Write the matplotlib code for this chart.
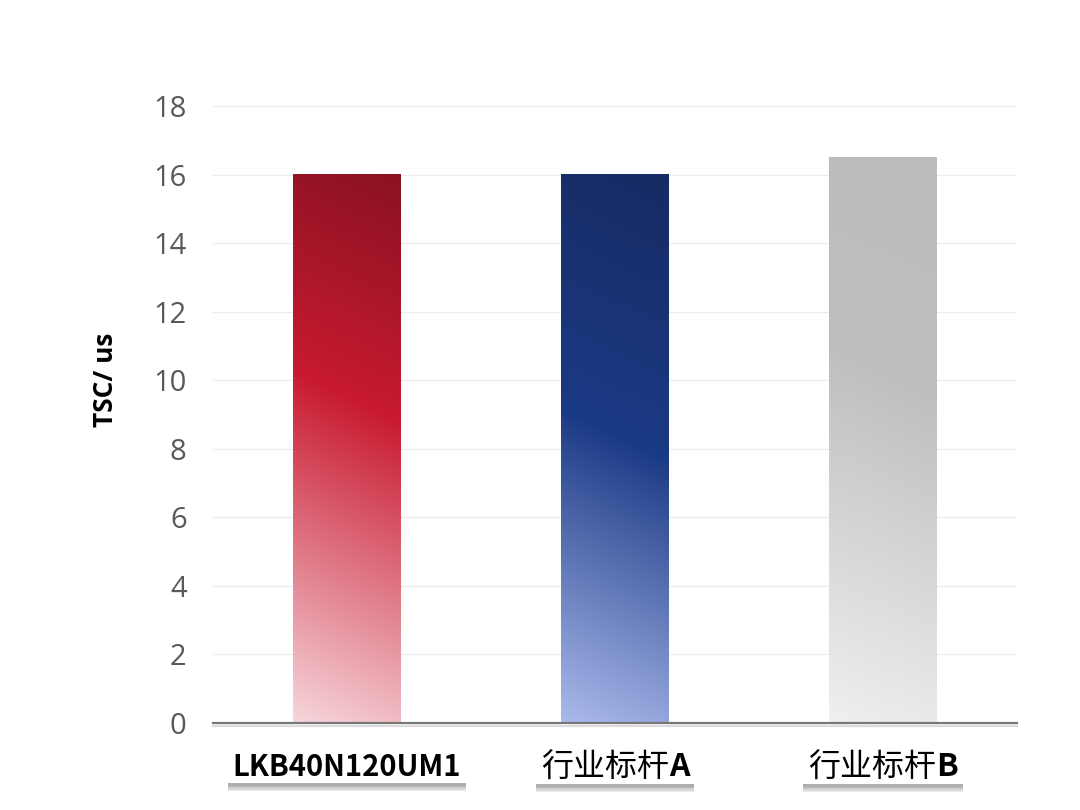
import matplotlib
matplotlib.use("Agg")
import matplotlib.pyplot as plt
import matplotlib.patheffects as pe
import numpy as np
from matplotlib.colors import to_rgb
from matplotlib.patches import Rectangle
from matplotlib.transforms import offset_copy, Bbox


CATEGORIES = ["LKB40N120UM1", "行业标杆A", "行业标杆B"]
# each label split into (text, weight) parts, the latin letters are bold
LABEL_PARTS = [
    [("LKB40N120UM1", "bold")],
    [("行业标杆", "normal"), ("A", "bold")],
    [("行业标杆", "normal"), ("B", "bold")],
]
LABEL_SIZES = [21, 23, 23]
VALUES = [16.0, 16.0, 16.5]
Y_TICKS = [0, 2, 4, 6, 8, 10, 12, 14, 16, 18]
Y_LABEL = "TSC/ us"

# gradient stops (position along diagonal, colour)
GRADIENTS = [
    [(0.0, "#8a1222"), (0.45, "#c81a30"), (1.09, "#f7d6dc")],
    [(0.0, "#172b63"), (0.52, "#1b3a85"), (1.09, "#abbaec")],
    [(0.0, "#bcbcbc"), (0.42, "#bebebe"), (1.09, "#f0f0f0")],
]
DIAG = 0.09

CJK = ["Noto Sans CJK SC", "DejaVu Sans"]
LATIN = ["Open Sans", "DejaVu Sans"]


def gradient_image(stops, nx=80, ny=400):
    xf = np.linspace(0, 1, nx)[None, :]
    yf = np.linspace(1, 0, ny)[:, None]  # row 0 = top
    u = (1 - yf) + DIAG * (1 - xf)
    pos = np.array([s[0] for s in stops])
    cols = np.array([to_rgb(s[1]) for s in stops])
    img = np.zeros((ny, nx, 3))
    for c in range(3):
        img[..., c] = np.interp(u, pos, cols[:, c])
    return img


fig = plt.figure(figsize=(10.8, 8.1), dpi=100)
ax = fig.add_axes([213 / 1080, 1 - 723 / 810, 804 / 1080, 617 / 810])

x = np.arange(len(CATEGORIES))
bars = ax.bar(x, VALUES, width=0.4, color="none", edgecolor="none", zorder=2)
for rect, stops in zip(bars, GRADIENTS):
    x0, y0 = rect.get_x(), rect.get_y()
    ax.imshow(gradient_image(stops), extent=(x0, x0 + rect.get_width(), y0, y0 + rect.get_height()),
              aspect="auto", interpolation="bilinear", zorder=2)

ax.set_xlim(-0.5, 2.5)
ax.set_ylim(0, 18)
ax.set_yticks(Y_TICKS)
ax.set_xticks([])
ax.grid(axis="y", color="#ececec", linewidth=0.9, zorder=0)
ax.set_axisbelow(True)
for s in ax.spines.values():
    s.set_visible(False)
ax.tick_params(axis="y", length=0, pad=19, labelsize=21, labelcolor="#595959")
for lab in ax.get_yticklabels():
    lab.set_fontfamily(LATIN)

base = ax.axhline(0, color="#777777", linewidth=1.6, zorder=3, clip_on=False)
base.set_path_effects([pe.SimpleLineShadow(offset=(0, -2.5), shadow_color="#999999", alpha=0.35),
                       pe.Normal()])

ax.set_ylabel(Y_LABEL, fontsize=19, fontweight="bold", family=LATIN, va="center")
ax.yaxis.set_label_coords(-0.134, 0.557)

# category labels: white boxes with a soft shadow
renderer = fig.canvas.get_renderer()
label_y = -0.072
shadow = [pe.withSimplePatchShadow(offset=(0, -d), shadow_rgbFace="#444444", alpha=0.10)
          for d in (1.5, 2.5, 3.5, 4.5, 5.5)] + [pe.Normal()]
for i, (parts, fs) in enumerate(zip(LABEL_PARTS, LABEL_SIZES)):
    widths = []
    for s, w in parts:
        tmp = ax.text(0, 0, s, fontsize=fs, fontweight=w, family=CJK)
        widths.append(tmp.get_window_extent(renderer).width)
        tmp.remove()
    start = -sum(widths) / 2
    texts = []
    for (s, w), wd in zip(parts, widths):
        trans = offset_copy(ax.get_xaxis_transform(), fig=fig, x=start, y=0, units="dots")
        texts.append(ax.text(i, label_y, s, transform=trans, ha="left", va="center", zorder=5,
                             fontsize=fs, fontweight=w, family=CJK, color="black"))
        start += wd
    bb = Bbox.union([t.get_window_extent(renderer) for t in texts])
    bb = Bbox.from_extents(bb.x0 - 5, bb.y0 - 1, bb.x1 + 5, bb.y1 + 2)
    bb = bb.transformed(ax.transAxes.inverted())
    box = Rectangle((bb.x0, bb.y0), bb.width, bb.height, transform=ax.transAxes,
                    facecolor="white", edgecolor="none", clip_on=False, zorder=4)
    box.set_path_effects(shadow)
    ax.add_patch(box)

fig.savefig("out.png", dpi=100)
